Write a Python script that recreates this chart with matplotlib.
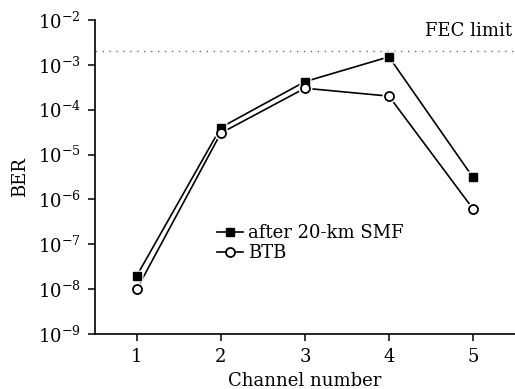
import numpy as np
import matplotlib
matplotlib.use('Agg')
import matplotlib.pyplot as plt

plt.rcParams['font.family'] = 'DejaVu Serif'
plt.rcParams['mathtext.fontset'] = 'dejavuserif'

# BER per channel
channels = [1, 2, 3, 4, 5]
ber_smf = [2e-8, 4e-5, 4.2e-4, 1.5e-3, 3.1e-6]
ber_btb = [1e-8, 3e-5, 3e-4, 2e-4, 6.2e-7]
fec_limit = 2e-3

fig = plt.figure(figsize=(5.15, 3.89), dpi=100)
ax = fig.add_axes([0.184, 0.141, 0.816, 0.808])

# lines first, then white masks so the lines stop short of the markers
ax.plot(channels, ber_smf, '-', color='black', lw=1.2, zorder=2)
ax.plot(channels, ber_btb, '-', color='black', lw=1.2, zorder=2)
ax.plot(channels, ber_smf, 's', color='white', ms=9, mec='none', zorder=3)
ax.plot(channels, ber_btb, 'o', color='white', ms=10, mec='none', zorder=3)
ax.plot(channels, ber_smf, 's', color='black', ms=5.8, mec='black', zorder=4)
ax.plot(channels, ber_btb, 'o', color='white', ms=6.5, mec='black', mew=1.3, zorder=4)

# handles for the legend only
h1, = ax.plot([], [], '-s', color='black', ms=5.8, lw=1.2, label='after 20-km SMF')
h2, = ax.plot([], [], '-o', color='black', mfc='white', ms=6.5, mew=1.3, lw=1.2, label='BTB')

ax.axhline(fec_limit, color='dimgray', ls=(0, (1, 4)), lw=1)
ax.text(5.46, 3.6e-3, 'FEC limit', ha='right', va='bottom', fontsize=13)

ax.set_yscale('log')
ax.set_ylim(1e-9, 1e-2)
ax.set_xlim(0.5, 5.5)
ax.set_xticks(channels)
ax.set_yticks([10.0 ** k for k in range(-9, -1)])
ax.minorticks_off()
ax.tick_params(direction='out', length=5, width=1.1, labelsize=13, pad=5)
ax.spines['top'].set_visible(False)
ax.spines['right'].set_visible(False)
ax.spines['left'].set_linewidth(1.2)
ax.spines['bottom'].set_linewidth(1.2)
ax.set_xlabel('Channel number', fontsize=13, labelpad=4)
ax.set_ylabel('BER', fontsize=13, labelpad=6)

ax.legend(handles=[h1, h2], loc='lower left', bbox_to_anchor=(0.27, 0.2), frameon=False,
          fontsize=13, handlelength=1.4, handletextpad=0.3, labelspacing=0.1, borderpad=0)

fig.savefig('out.png', dpi=100)
